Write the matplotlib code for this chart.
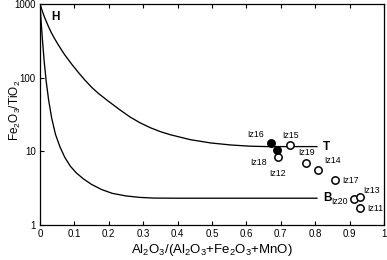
import matplotlib
matplotlib.use("Agg")
import matplotlib.pyplot as plt

plt.rcParams['font.family'] = ['Liberation Sans', 'DejaVu Sans']
plt.rcParams['mathtext.fontset'] = 'custom'
plt.rcParams['mathtext.rm'] = 'Liberation Sans'
plt.rcParams['mathtext.it'] = 'Liberation Sans:italic'
plt.rcParams['mathtext.bf'] = 'Liberation Sans:bold'

# Mixing curve H-T
ht_x = [0, 0.007, 0.014, 0.024, 0.033, 0.043, 0.052, 0.062, 0.072, 0.091, 0.11, 0.13,
        0.15, 0.17, 0.196, 0.23, 0.262, 0.29, 0.321, 0.35, 0.379, 0.437, 0.496, 0.554,
        0.61, 0.66, 0.805]
ht_y = [1000, 794, 646, 501, 407, 335, 285, 240, 204, 155, 120, 93.3,
        74.1, 61.0, 49.0, 37.2, 29.2, 24.5, 20.9, 18.5, 16.8, 14.4, 13.0, 12.2,
        11.75, 11.6, 11.6]

# Mixing curve H-B
hb_x = [0, 0.003, 0.007, 0.012, 0.018, 0.025, 0.034, 0.045, 0.058, 0.072, 0.088,
        0.105, 0.125, 0.15, 0.18, 0.21, 0.25, 0.29, 0.33, 0.4, 0.805]
hb_y = [1000, 603, 331, 170, 89, 50, 28.2, 17.0, 11.5, 8.3, 6.3,
        5.13, 4.27, 3.55, 3.02, 2.69, 2.48, 2.37, 2.32, 2.31, 2.31]

# Samples
filled_names = ['Iz16', 'Iz18']
filled_x = [0.671, 0.688]
filled_y = [12.9, 10.4]

open_names = ['Iz12', 'Iz15', 'Iz19', 'Iz14', 'Iz17', 'Iz20', 'Iz13', 'Iz11']
open_x = [0.692, 0.727, 0.774, 0.809, 0.857, 0.912, 0.929, 0.931]
open_y = [8.5, 12.1, 6.9, 5.6, 4.05, 2.26, 2.38, 1.69]

xticks = [0, 0.1, 0.2, 0.3, 0.4, 0.5, 0.6, 0.7, 0.8, 0.9, 1]
xticklabels = ['0', '0.1', '0.2', '0.3', '0.4', '0.5', '0.6', '0.7', '0.8', '0.9', '1']
yticks = [1, 10, 100, 1000]
yticklabels = ['1', '10', '100', '1000']

fig = plt.figure(figsize=(3.87, 2.60), dpi=100)
ax = fig.add_axes([40/387, 1-225/260, 344/387, 221/260])

ax.plot(ht_x, ht_y, color='black', lw=0.95, solid_joinstyle='round')
ax.plot(hb_x, hb_y, color='black', lw=0.95, solid_joinstyle='round')

ax.scatter(open_x, open_y, s=28, facecolor='white', edgecolor='black', linewidths=1.1, zorder=3)
ax.scatter(filled_x, filled_y, s=28, facecolor='black', edgecolor='black', linewidths=1.1, zorder=4)

# sample labels: offsets in points
offsets = {
    'Iz16': (-11, 6, 'center'),
    'Iz18': (-13, -9, 'center'),
    'Iz12': (0, -12, 'center'),
    'Iz15': (0, 7, 'center'),
    'Iz19': (0, 8, 'center'),
    'Iz14': (10, 7, 'center'),
    'Iz17': (5, 0, 'left'),
    'Iz20': (-4, -2, 'right'),
    'Iz13': (3, 5, 'left'),
    'Iz11': (5, 0, 'left'),
}
for n, x, y in zip(filled_names + open_names, filled_x + open_x, filled_y + open_y):
    dx, dy, ha = offsets[n]
    ax.annotate(n, (x, y), xytext=(dx, dy), textcoords='offset points',
                ha=ha, va='center', fontsize=6.3)

ax.text(0.045, 660, 'H', fontsize=8.5, fontweight='bold', ha='center', va='center')
ax.text(0.822, 11.6, 'T', fontsize=8.5, fontweight='bold', ha='left', va='center')
ax.text(0.822, 2.31, 'B', fontsize=8.5, fontweight='bold', ha='left', va='center')

ax.set_yscale('log')
ax.set_xlim(0, 1)
ax.set_ylim(1, 1000)
ax.set_xticks(xticks)
ax.set_xticklabels(xticklabels)
ax.set_yticks(yticks)
ax.set_yticklabels(yticklabels)
ax.yaxis.set_minor_locator(matplotlib.ticker.NullLocator())
ax.tick_params(axis='both', direction='in', labelsize=7, length=3, width=0.8, pad=3)
ax.tick_params(axis='x', top=True)
for s in ax.spines.values():
    s.set_linewidth(0.9)

ax.set_xlabel('Al$_2$O$_3$/(Al$_2$O$_3$+Fe$_2$O$_3$+MnO)', fontsize=9.5, labelpad=2)
ax.set_ylabel('Fe$_2$O$_3$/TiO$_2$', fontsize=8.5)
ax.yaxis.set_label_coords(-0.05, 0.52)

fig.savefig('out.png', dpi=100)
